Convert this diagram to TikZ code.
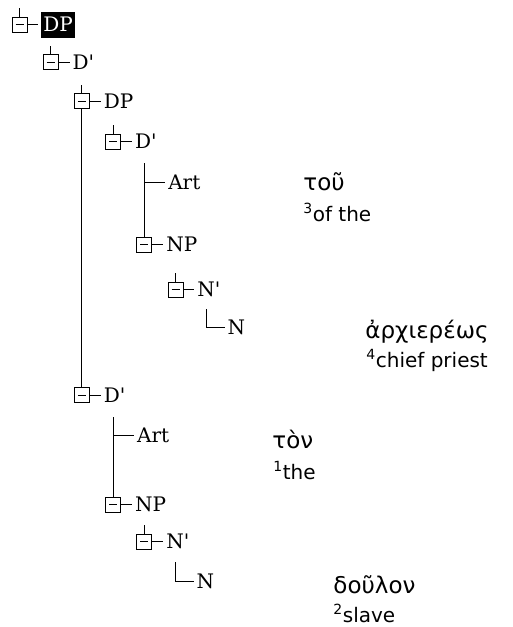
\documentclass[tikz,border=0pt]{standalone}
\usepackage{fontspec}
\setmainfont{DejaVu Serif}
\newfontfamily\glossfont{DejaVu Sans}
\usetikzlibrary{positioning}

\begin{document}
\begin{tikzpicture}[x=1pt,y=-1pt,line width=0.9pt,
	toggle/.style={draw,minimum size=15pt,inner sep=0pt,
		path picture={\draw ([xshift=-4pt]path picture bounding box.center) -- ([xshift=4pt]path picture bounding box.center);}},
	cat/.style={inner sep=0pt,outer xsep=3pt,font=\fontsize{20}{20}\selectfont},
	sel/.style={fill=black,text=white,inner xsep=2pt,minimum height=26pt},
	greek/.style={anchor=base west,inner sep=0pt,font=\glossfont\fontsize{23}{23}\selectfont},
	gloss/.style={anchor=base west,inner sep=0pt,font=\glossfont\fontsize{20}{20}\selectfont}]
	\useasboundingbox (0,0) rectangle (512,627);
	\node[toggle] (b_0) at (19.5,24.5) {};
	\node[toggle] (b_1) at (50.7,62) {};
	\node[toggle] (b_2) at (81.9,101) {};
	\node[toggle] (b_3) at (113.1,141.5) {};
	\node[toggle] (b_5) at (144.3,244.5) {};
	\node[toggle] (b_6) at (175.5,289.5) {};
	\node[toggle] (b_8) at (81.9,395) {};
	\node[toggle] (b_10) at (113.1,504.5) {};
	\node[toggle] (b_11) at (144.3,541.5) {};
	\node[cat,sel,right=11pt of b_0] (n_0) {DP};
	\node[cat,right=11pt of b_1] (n_1) {D\textquotesingle};
	\node[cat,right=11pt of b_2] (n_2) {DP};
	\node[cat,right=11pt of b_3] (n_3) {D\textquotesingle};
	\node[cat,right=11pt of b_5] (n_5) {NP};
	\node[cat,right=11pt of b_6] (n_6) {N\textquotesingle};
	\node[cat,right=11pt of b_8] (n_8) {D\textquotesingle};
	\node[cat,right=11pt of b_10] (n_10) {NP};
	\node[cat,right=11pt of b_11] (n_11) {N\textquotesingle};
	\coordinate (k_4) at (144.3,163);
	\coordinate (j_4) at (144.3,182);
	\node[cat,right=21pt of j_4] (n_4) {Art};
	\coordinate (k_7) at (206.7,309);
	\coordinate (j_7) at (206.7,327);
	\node[cat,right=18pt of j_7] (n_7) {N};
	\coordinate (k_9) at (113.1,417);
	\coordinate (j_9) at (113.1,435);
	\node[cat,right=21pt of j_9] (n_9) {Art};
	\coordinate (k_12) at (175.5,562);
	\coordinate (j_12) at (175.5,581);
	\node[cat,right=18pt of j_12] (n_12) {N};
	\foreach \b in {0,1,2,3,6,11}
		\draw (b_\b.north) -- ++(0,-8.5);
	\foreach \b in {0,1,2,3,5,6,8,10,11}
		\draw (b_\b.east) -- (n_\b.west);
	\draw (b_2.south) -- (b_8.north);
	\draw (k_4) -- (b_5.north);
	\draw (j_4) -- (n_4.west);
	\draw (k_7) -- (j_7) -- (n_7.west);
	\draw (k_9) -- (b_10.north);
	\draw (j_9) -- (n_9.west);
	\draw (k_12) -- (j_12) -- (n_12.west);
	\node[greek] (g_3) at (303,190) {τοῦ};
	\node[gloss] (e_3) at (303,221) {\textsuperscript{3}of the};
	\node[greek] (g_4) at (365,338) {ἀρχιερέως};
	\node[gloss] (e_4) at (366,367) {\textsuperscript{4}chief priest};
	\node[greek] (g_1) at (272,448) {τὸν};
	\node[gloss] (e_1) at (273,479) {\textsuperscript{1}the};
	\node[greek] (g_2) at (333,593) {δοῦλον};
	\node[gloss] (e_2) at (333,622) {\textsuperscript{2}slave};
\end{tikzpicture}
\end{document}
